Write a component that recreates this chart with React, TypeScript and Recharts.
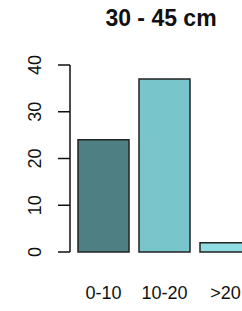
import { BarChart, Bar, XAxis, YAxis, Cell } from "recharts";

const categories = ["0-10", "10-20", ">20"];
const counts = [24, 37, 2];
const colors = ["#4e8083", "#79c5cc", "#8fdde3"];
const yTicks = [0, 10, 20, 30, 40];

const data = categories.map((name, i) => ({ name, value: counts[i] }));

const YTick = (props: any) => {
  const { x, y, payload } = props;
  return (
    <text
      x={0}
      y={0}
      transform={`translate(${x - 15}, ${y}) rotate(-90)`}
      textAnchor="middle"
      fontSize={18}
      fill="#111"
      fontFamily="Liberation Sans, Arial, sans-serif"
    >
      {payload.value}
    </text>
  );
};

const XTick = (props: any) => {
  const { x, y, payload } = props;
  return (
    <text
      x={x}
      y={y + 39}
      textAnchor="middle"
      fontSize={18}
      fill="#111"
      fontFamily="Liberation Sans, Arial, sans-serif"
    >
      {payload.value}
    </text>
  );
};

const App = () => {
  return (
    <div style={{ position: "absolute", left: 0, top: 0, width: 242, height: 311, overflow: "hidden", background: "#fff" }}>
      <div
        style={{
          position: "absolute",
          left: 0,
          top: 5,
          width: 322,
          textAlign: "center",
          fontFamily: "Liberation Sans, Arial, sans-serif",
          fontWeight: "bold",
          fontSize: 23,
          color: "#111",
        }}
      >
        30 - 45 cm
      </div>
      <BarChart
        width={257}
        height={311}
        data={data}
        margin={{ top: 65, right: 1, bottom: 0, left: 0 }}
      >
        <XAxis
          dataKey="name"
          axisLine={false}
          tickLine={false}
          height={59}
          padding={{ left: 3, right: 0 }}
          tick={<XTick />}
          interval={0}
        />
        <YAxis
          width={70}
          domain={[0, 40]}
          ticks={yTicks}
          tickSize={12}
          axisLine={{ stroke: "#111", strokeWidth: 1.5 }}
          tickLine={{ stroke: "#111", strokeWidth: 1.5 }}
          tick={<YTick />}
          interval={0}
        />
        <Bar dataKey="value" barSize={51} stroke="#222" strokeWidth={1.5} isAnimationActive={false}>
          {data.map((entry, index) => (
            <Cell key={`cell-${index}`} fill={colors[index]} />
          ))}
        </Bar>
      </BarChart>
    </div>
  );
};

export default App;
